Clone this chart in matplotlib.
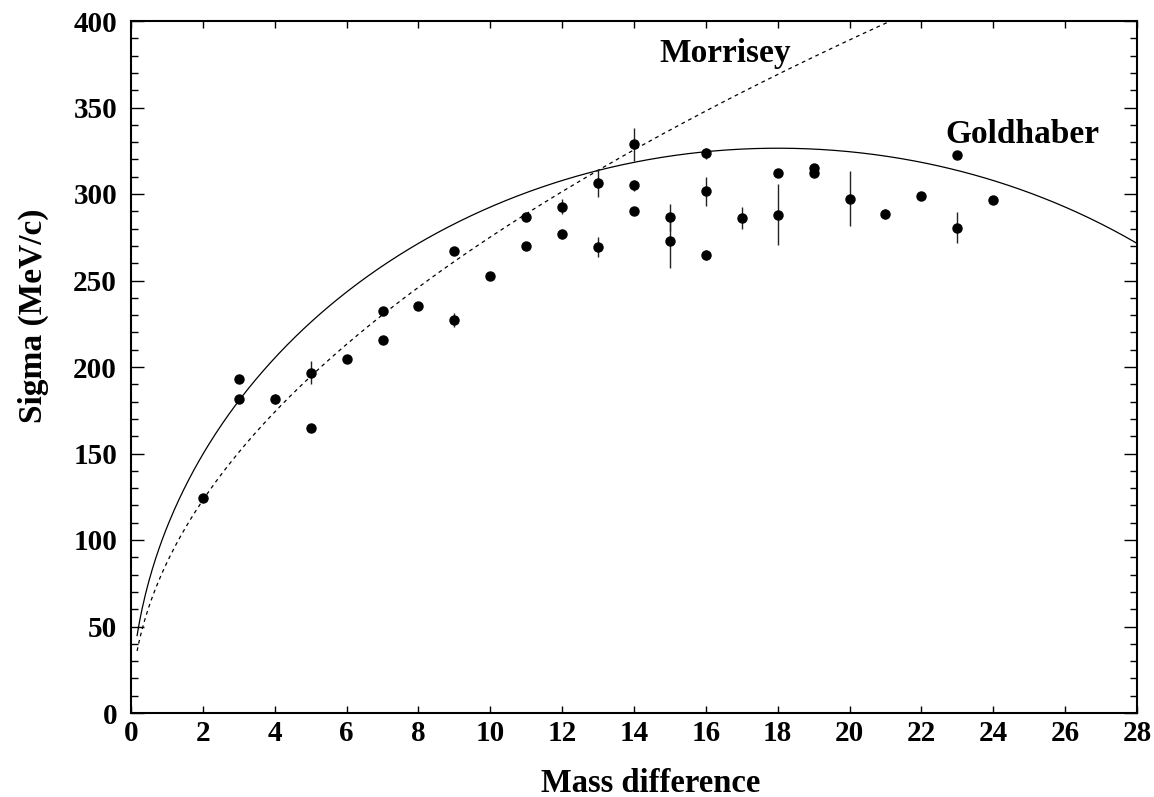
import numpy as np
import matplotlib
matplotlib.use("Agg")
import matplotlib.pyplot as plt
from matplotlib.ticker import MultipleLocator

# ---- data ----
mass_diff = [2, 3, 3, 4, 5, 5, 6, 7, 7, 8, 9, 9, 10, 11, 11, 12, 12, 13, 13,
             14, 14, 14, 15, 15, 16, 16, 16, 17, 18, 18, 19, 19, 20, 21, 22, 23, 23, 24]
sigma = [124.5, 192.9, 181.7, 181.5, 196.7, 164.6, 204.8, 232.4, 215.8, 235.4,
         267.1, 227.2, 252.8, 286.5, 270.1, 292.7, 276.7, 306.4, 269.4,
         328.7, 305.0, 290.0, 286.5, 272.6, 323.5, 301.6, 264.6, 286.1,
         312.1, 288.0, 314.8, 311.9, 297.3, 288.6, 298.8, 322.4, 280.5, 296.3]
sigma_err = [0, 0, 2, 3, 6.6, 0, 0, 2, 0, 0, 0, 4, 0, 2, 2, 4.5, 3, 8, 5.6,
             9.5, 3, 0, 8, 15.6, 3, 8.3, 3, 6.2, 2, 17.6, 2, 2, 16, 3, 0, 0, 9, 0]

# model curve parameters
goldhaber_sigma0 = 107.3   # MeV/c
goldhaber_A = 36
morrisey_coef = 87.0       # MeV/c per sqrt(mass difference)
curve_x_start = 0.17
xticks = list(range(0, 29, 2))
yticks = list(range(0, 401, 50))

plt.rcParams['font.family'] = ['Liberation Serif', 'DejaVu Serif']
plt.rcParams['font.weight'] = 'bold'

W, H = 1154, 797
fig = plt.figure(figsize=(W / 100, H / 100), dpi=100)
ax = fig.add_axes([131/W, 1 - 713/H, (1137 - 131)/W, (713 - 21)/H])

xc = np.linspace(curve_x_start, 28, 600)
gold = goldhaber_sigma0 * np.sqrt(xc * (goldhaber_A - xc) / (goldhaber_A - 1))
morr = morrisey_coef * np.sqrt(xc)
ax.plot(xc, gold, color='black', lw=0.9)
ax.plot(xc, morr, color='black', lw=0.9, dashes=(3, 3))

ax.errorbar(mass_diff, sigma, yerr=sigma_err, fmt='o', color='black',
            ms=6.5, elinewidth=1.0, capsize=0, ecolor='#222222')

ax.text(14.72, 376.5, 'Morrisey', fontsize=24, fontweight='bold', ha='left', va='baseline')
ax.text(22.68, 329.3, 'Goldhaber', fontsize=24, fontweight='bold', ha='left', va='baseline')

ax.set_xlim(0, 28)
ax.set_ylim(0, 400)
ax.set_xticks(xticks)
ax.set_yticks(yticks)
ax.yaxis.set_minor_locator(MultipleLocator(10))

ax.tick_params(axis='x', which='major', direction='in', length=5, width=1,
               top=True, bottom=True, labelsize=21, pad=5)
ax.tick_params(axis='y', which='major', direction='in', length=9.4, width=1,
               left=True, right=True, labelsize=21, pad=10)
ax.tick_params(axis='y', which='minor', direction='in', length=4.7, width=1,
               left=True, right=True)
for lab in ax.get_xticklabels() + ax.get_yticklabels():
    lab.set_fontweight('bold')
for sp in ax.spines.values():
    sp.set_linewidth(1.5)

fig.text(651/W, 1 - 792/H, 'Mass difference', fontsize=23.5, fontweight='bold',
         ha='center', va='baseline')
fig.text(33/W, 1 - 316/H, 'Sigma (MeV/c)', fontsize=24, fontweight='bold',
         ha='center', va='center', rotation=90)

fig.savefig('out.png', dpi=100)
